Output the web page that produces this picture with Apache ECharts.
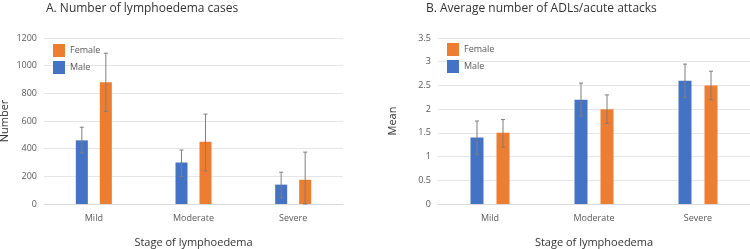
<!DOCTYPE html>
<html>
<head>
<meta charset="utf-8">
<script src="https://cdn.jsdelivr.net/npm/echarts@6/dist/echarts.min.js"></script>
<style>
  html, body { margin: 0; padding: 0; background: #fff; }
  #chart { width: 750px; height: 249px; }
</style>
</head>
<body>
<div id="chart"></div>
<script>
const stages = ['Mild', 'Moderate', 'Severe'];

// A. Number of lymphoedema cases
const casesMale = [460, 300, 140];
const casesMaleLow = [370, 200, 45];
const casesMaleHigh = [555, 390, 230];
const casesFemale = [880, 450, 175];
const casesFemaleLow = [670, 240, 0];
const casesFemaleHigh = [1090, 650, 375];

// B. Average number of ADLs/acute attacks
const meanMale = [1.4, 2.2, 2.6];
const meanMaleLow = [1.05, 1.85, 2.25];
const meanMaleHigh = [1.75, 2.55, 2.95];
const meanFemale = [1.5, 2.0, 2.5];
const meanFemaleLow = [1.2, 1.7, 2.2];
const meanFemaleHigh = [1.78, 2.3, 2.8];

const blue = '#4472C4';
const orange = '#ED7D31';
const font = 'Open Sans';
const labelColor = '#595959';

// error bar drawn as custom series, shifted to sit over its bar
function errorSeries(name, axisIdx, low, high, offset) {
    return {
        name: name,
        type: 'custom',
        xAxisIndex: axisIdx,
        yAxisIndex: axisIdx,
        z: 5,
        silent: true,
        data: low.map((v, i) => [i, v, high[i]]),
        renderItem(params, api) {
            const lo = api.coord([api.value(0), api.value(1)]);
            const hi = api.coord([api.value(0), api.value(2)]);
            const x = lo[0] + offset;
            const style = { stroke: '#7f7f7f', lineWidth: 1 };
            return {
                type: 'group',
                children: [
                    { type: 'line', shape: { x1: x, y1: lo[1], x2: x, y2: hi[1] }, style: style },
                    { type: 'line', shape: { x1: x - 2, y1: lo[1], x2: x + 2, y2: lo[1] }, style: style },
                    { type: 'line', shape: { x1: x - 2, y1: hi[1], x2: x + 2, y2: hi[1] }, style: style }
                ]
            };
        }
    };
}

function xAxisFor(gridIndex) {
    return {
        type: 'category',
        gridIndex: gridIndex,
        data: stages,
        axisLine: { lineStyle: { color: '#d9d9d9' } },
        axisTick: { show: false },
        axisLabel: { color: labelColor, fontFamily: font, fontSize: 9, margin: 10 },
        name: 'Stage of lymphoedema',
        nameLocation: 'middle',
        nameGap: 33,
        nameTextStyle: { color: '#333', fontFamily: font, fontSize: 11 }
    };
}

function yAxisFor(gridIndex, max, interval, name, nameGap) {
    return {
        type: 'value',
        gridIndex: gridIndex,
        min: 0,
        max: max,
        interval: interval,
        axisLine: { show: false },
        axisTick: { show: false },
        splitLine: { lineStyle: { color: '#e6e6e6' } },
        axisLabel: { color: labelColor, fontFamily: font, fontSize: 9, margin: 7,
                     formatter: v => String(v) },
        name: name,
        nameLocation: 'middle',
        nameGap: nameGap,
        nameTextStyle: { color: '#333', fontFamily: font, fontSize: 11 }
    };
}

const chart = echarts.init(document.getElementById('chart'));

chart.setOption({
    animation: false,
    title: [
        { text: 'A. Number of lymphoedema cases', left: 41, top: -2,
          textStyle: { fontFamily: font, fontSize: 12, fontWeight: 'normal', color: '#333' } },
        { text: 'B. Average number of ADLs/acute attacks', left: 421, top: -2,
          textStyle: { fontFamily: font, fontSize: 12, fontWeight: 'normal', color: '#333' } }
    ],
    legend: [
        { data: ['Female', 'Male'], orient: 'vertical', left: 48, top: 39,
          icon: 'rect', itemWidth: 12, itemHeight: 13, itemGap: 4,
          textStyle: { color: labelColor, fontFamily: font, fontSize: 9 } },
        { data: ['Female ', 'Male '], orient: 'vertical', left: 442, top: 38,
          icon: 'rect', itemWidth: 12, itemHeight: 13, itemGap: 4,
          textStyle: { color: labelColor, fontFamily: font, fontSize: 9 } }
    ],
    grid: [
        { left: 44, right: 407, top: 38, bottom: 45, outerBoundsMode: 'none' },
        { left: 438, right: 0, top: 38, bottom: 45, outerBoundsMode: 'none' }
    ],
    xAxis: [xAxisFor(0), xAxisFor(1)],
    yAxis: [
        yAxisFor(0, 1200, 200, 'Number', 34),
        yAxisFor(1, 3.5, 0.5, 'Mean', 40)
    ],
    series: [
        { name: 'Male', type: 'bar', xAxisIndex: 0, yAxisIndex: 0, data: casesMale,
          barWidth: 12, barGap: '100%', itemStyle: { color: blue } },
        { name: 'Female', type: 'bar', xAxisIndex: 0, yAxisIndex: 0, data: casesFemale,
          barWidth: 12, barGap: '100%', itemStyle: { color: orange } },
        errorSeries('errA1', 0, casesMaleLow, casesMaleHigh, -12),
        errorSeries('errA2', 0, casesFemaleLow, casesFemaleHigh, 12),
        { name: 'Male ', type: 'bar', xAxisIndex: 1, yAxisIndex: 1, data: meanMale,
          barWidth: 13, barGap: '100%', itemStyle: { color: blue } },
        { name: 'Female ', type: 'bar', xAxisIndex: 1, yAxisIndex: 1, data: meanFemale,
          barWidth: 13, barGap: '100%', itemStyle: { color: orange } },
        errorSeries('errB1', 1, meanMaleLow, meanMaleHigh, -13),
        errorSeries('errB2', 1, meanFemaleLow, meanFemaleHigh, 13)
    ]
});
</script>
</body>
</html>
